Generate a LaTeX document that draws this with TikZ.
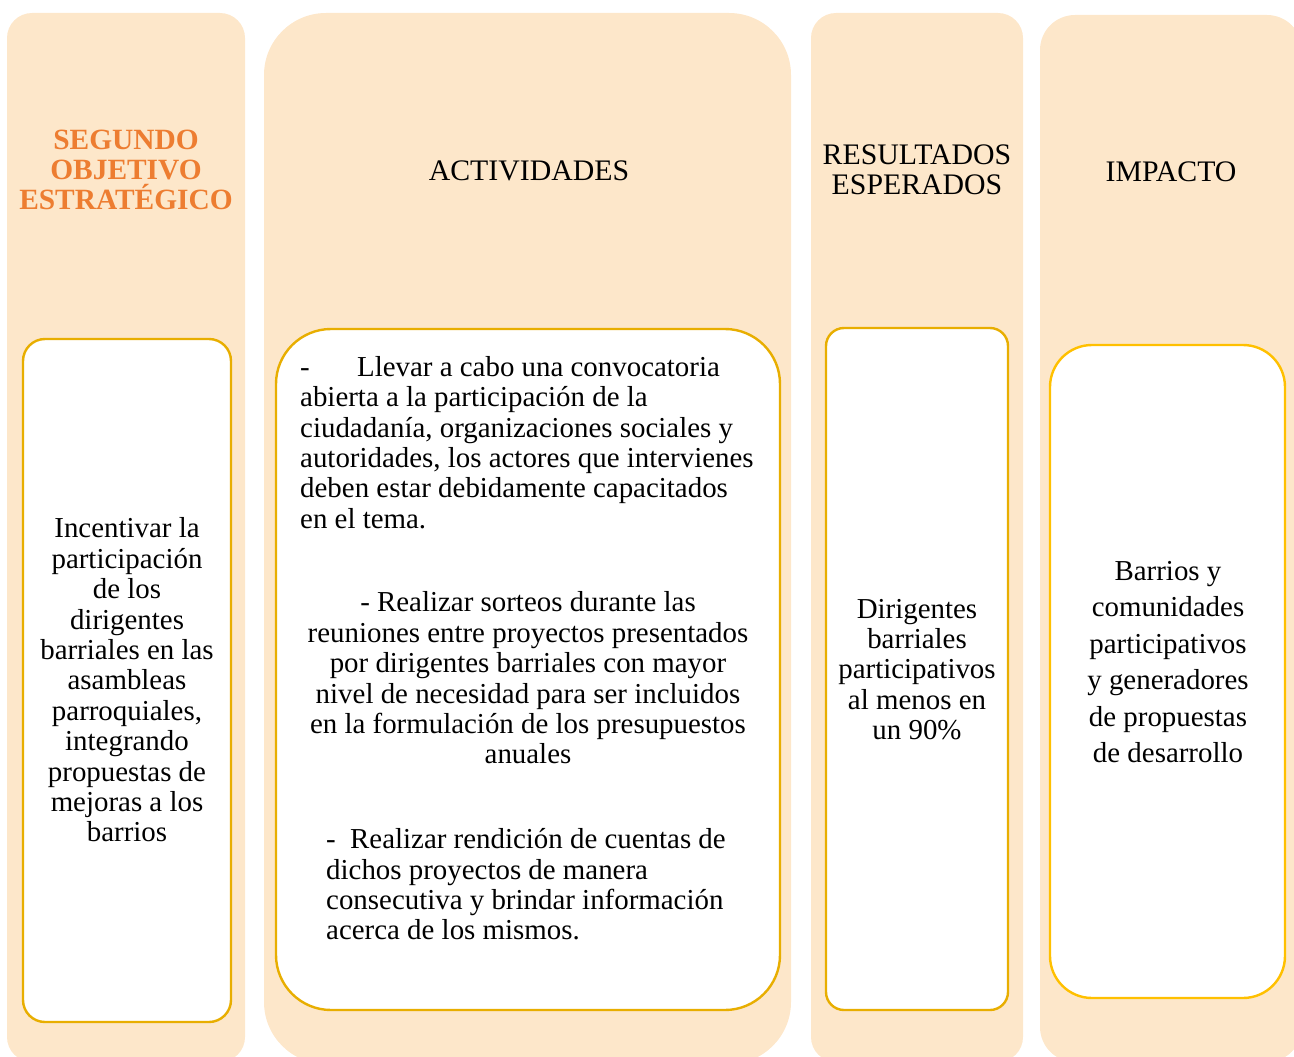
\documentclass[tikz,border=0pt]{standalone}
\usepackage{fontspec}
\setmainfont{Liberation Serif}
\definecolor{colfill}{HTML}{FDE7CA}
\definecolor{headorange}{HTML}{ED7D31}
\definecolor{goldA}{HTML}{E8AE00}
\definecolor{goldB}{HTML}{FFC000}
\tikzset{
  colbg/.style={fill=colfill, draw=none},
  innerbox/.style={fill=white, draw=goldA, line width=2.4pt},
  bodytext/.style={inner sep=0pt, font=\fontsize{28.9}{30.4}\selectfont, text=black},
  headtext/.style={inner sep=0pt, font=\fontsize{29.8}{30}\selectfont, text=black},
}
\begin{document}
\begin{tikzpicture}[x=1pt,y=-1pt]
\useasboundingbox (0,0) rectangle (1294,1057);
\clip (0,0) rectangle (1294,1057);
% columns
\path[colbg, rounded corners=25pt] (7,13) rectangle (245,1062);
\path[colbg, rounded corners=62pt] (264,13) rectangle (791,1064);
\path[colbg, rounded corners=25pt] (811,13) rectangle (1023,1062);
\path[colbg, rounded corners=35pt] (1040,15) rectangle (1302,1062);
% inner boxes
\draw[innerbox, rounded corners=22pt] (23,339) rectangle (231,1022);
\draw[innerbox, rounded corners=55pt] (276,329) rectangle (780,1010);
\draw[innerbox, rounded corners=18pt] (826,328) rectangle (1008,1010);
\draw[innerbox, draw=goldB, rounded corners=42pt] (1050,345) rectangle (1285,998);
% headings
\node[headtext, align=center, text=headorange, font=\fontsize{29.4}{30}\selectfont\bfseries] (h1) at (126,170) {SEGUNDO\\OBJETIVO\\ESTRATÉGICO};
\node[headtext] (h2) at (529,171) {ACTIVIDADES};
\node[headtext, align=center] (h3) at (917,170) {RESULTADOS\\ESPERADOS};
\node[headtext] (h4) at (1171,172) {IMPACTO};
% body texts
\node[bodytext, align=center] (t1) at (127,680) {Incentivar la\\participación\\de los\\dirigentes\\barriales en las\\asambleas\\parroquiales,\\integrando\\propuestas de\\mejoras a los\\barrios};
\node[bodytext, align=left, anchor=west] (t2a) at (300,442.5) {\makebox[57pt][l]{-}Llevar a cabo una convocatoria\\abierta a la participación de la\\ciudadanía, organizaciones sociales y\\autoridades, los actores que intervienes\\deben estar debidamente capacitados\\en el tema.};
\node[bodytext, align=center] (t2b) at (528,678) {- Realizar sorteos durante las\\reuniones entre proyectos presentados\\por dirigentes barriales con mayor\\nivel de necesidad para ser incluidos\\en la formulación de los presupuestos\\anuales};
\node[bodytext, align=left, anchor=west] (t2c) at (326,884.5) {\makebox[24pt][l]{-}Realizar rendición de cuentas de\\dichos proyectos de manera\\consecutiva y brindar información\\acerca de los mismos.};
\node[bodytext, align=center] (t3) at (917,669.5) {Dirigentes\\barriales\\participativos\\al menos en\\un 90\%};
\node[bodytext, align=center, font=\fontsize{28.9}{36.4}\selectfont] (t4) at (1168,662) {Barrios y\\comunidades\\participativos\\y generadores\\de propuestas\\de desarrollo};
\end{tikzpicture}
\end{document}
